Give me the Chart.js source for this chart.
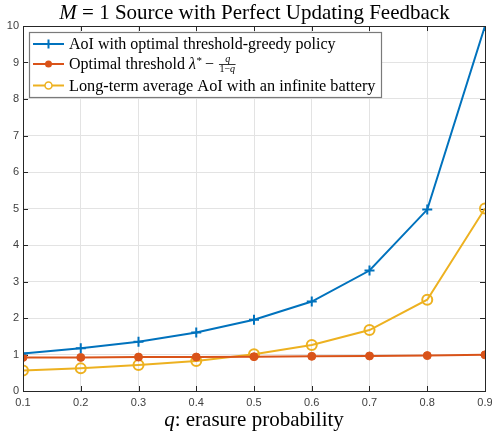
<!DOCTYPE html>
<html>
<head>
<meta charset="utf-8">
<script src="https://cdn.jsdelivr.net/npm/chart.js@4.4.1/dist/chart.umd.min.js"></script>
<style>
html,body{margin:0;padding:0;background:#fff;}
#wrap{width:492px;height:435px;position:relative;}
</style>
</head>
<body>
<div id="wrap"><canvas id="c" width="492" height="435"></canvas></div>
<script>
// ---- data ----
const qValues      = [0.1, 0.2, 0.3, 0.4, 0.5, 0.6, 0.7, 0.8, 0.9];
const aoiGreedy    = [1.03, 1.17, 1.35, 1.60, 1.95, 2.45, 3.30, 4.97, 10.0];
const optThreshold = [0.92, 0.92, 0.93, 0.93, 0.94, 0.95, 0.96, 0.97, 0.99];
const aoiInfinite  = [0.56, 0.62, 0.71, 0.82, 1.01, 1.26, 1.67, 2.50, 5.00];
const xTicks = [0.1, 0.2, 0.3, 0.4, 0.5, 0.6, 0.7, 0.8, 0.9];
const yTicks = [0, 1, 2, 3, 4, 5, 6, 7, 8, 9, 10];
const seriesNames = [
  'AoI with optimal threshold-greedy policy',
  'Optimal threshold',
  'Long-term average AoI with an infinite battery'
];

const BLUE = '#0072BD', ORANGE = '#D95319', YELLOW = '#EDB120';
const AXIS = '#262626', GRID = '#e3e3e3';
const SERIF = '"Liberation Serif", "DejaVu Serif", serif';
const SANS = '"Liberation Sans", Arial, sans-serif';

function pts(ys){ return qValues.map((q,i)=>({x:q,y:ys[i]})); }

function drawRuns(ctx, runs, x, y){
  for (const r of runs){
    ctx.font = (r.italic?'italic ':'') + r.size + 'px ' + SERIF;
    ctx.fillText(r.t, x, y);
    x += ctx.measureText(r.t).width;
  }
  return x;
}
function runsWidth(ctx, runs){
  let w=0;
  for (const r of runs){ ctx.font=(r.italic?'italic ':'')+r.size+'px '+SERIF; w+=ctx.measureText(r.t).width; }
  return w;
}

const decor = {
  id:'decor',
  beforeDatasetsDraw(chart){
    const ctx = chart.ctx, a = chart.chartArea;
    const xs = chart.scales.x, ys = chart.scales.y;
    ctx.save();
    ctx.strokeStyle = AXIS; ctx.lineWidth = 1;
    ctx.beginPath();
    for (const v of xTicks){
      const px = Math.round(xs.getPixelForValue(v))+0.5;
      ctx.moveTo(px, a.bottom); ctx.lineTo(px, a.bottom-5);
      ctx.moveTo(px, a.top); ctx.lineTo(px, a.top+5);
    }
    for (const v of yTicks){
      const py = Math.round(ys.getPixelForValue(v))+0.5;
      ctx.moveTo(a.left, py); ctx.lineTo(a.left+5, py);
      ctx.moveTo(a.right, py); ctx.lineTo(a.right-5, py);
    }
    ctx.stroke();
    ctx.restore();
  },
  afterDraw(chart){
    const ctx = chart.ctx, a = chart.chartArea;
    ctx.save();
    ctx.strokeStyle = AXIS; ctx.lineWidth = 1;
    ctx.strokeRect(Math.round(a.left)+0.5, Math.round(a.top)+0.5, Math.round(a.right-a.left), Math.round(a.bottom-a.top));
    // title
    ctx.fillStyle = '#000';
    ctx.textBaseline = 'alphabetic';
    const title = [
      {t:'M', italic:true, size:21},
      {t:' = 1 Source with Perfect Updating Feedback', italic:false, size:21}
    ];
    const tw = runsWidth(ctx, title);
    drawRuns(ctx, title, 254.5 - tw/2, 19);
    // x label
    const xl = [
      {t:'q', italic:true, size:21},
      {t:': erasure probability', italic:false, size:21}
    ];
    const xw = runsWidth(ctx, xl);
    drawRuns(ctx, xl, 254 - xw/2, 426);
    // legend
    const L = {x:29.5, y:32.5, w:352, h:65};
    ctx.fillStyle = '#fff';
    ctx.fillRect(L.x, L.y, L.w, L.h);
    ctx.strokeStyle = '#7a7a7a'; ctx.lineWidth = 1.2;
    ctx.strokeRect(L.x, L.y, L.w, L.h);
    const rows = [44, 64, 85.5];
    const cols = [BLUE, ORANGE, YELLOW];
    for (let i=0;i<3;i++){
      const y = rows[i];
      ctx.strokeStyle = cols[i]; ctx.lineWidth = 2;
      ctx.beginPath(); ctx.moveTo(33, y); ctx.lineTo(64, y); ctx.stroke();
      const mx = 48.5;
      if (i===0){
        ctx.lineWidth = 2;
        ctx.beginPath(); ctx.moveTo(mx-4.5,y); ctx.lineTo(mx+4.5,y); ctx.moveTo(mx,y-4.5); ctx.lineTo(mx,y+4.5); ctx.stroke();
      } else if (i===1){
        ctx.fillStyle = ORANGE; ctx.beginPath(); ctx.arc(mx,y,3.5,0,Math.PI*2); ctx.fill();
      } else {
        ctx.lineWidth = 1.5; ctx.fillStyle='#fff';
        ctx.beginPath(); ctx.arc(mx,y,3.5,0,Math.PI*2); ctx.fill(); ctx.stroke();
      }
    }
    ctx.fillStyle = '#000';
    ctx.textBaseline = 'middle';
    drawRuns(ctx, [{t:seriesNames[0], size:16}], 69, rows[0]+1);
    let ex = drawRuns(ctx, [{t:seriesNames[1]+' ', size:16},{t:'λ', italic:true, size:16}], 69, rows[1]+1);
    ctx.font = '11px '+SERIF; ctx.fillText('*', ex+0.5, rows[1]-3);
    ex += 9;
    ex = drawRuns(ctx, [{t:'\u2212 ', size:16}], ex, rows[1]+1);
    ex += 1;
    ctx.textBaseline = 'alphabetic';
    const denRuns = [{t:'1\u2212', size:10},{t:'q', italic:true, size:10}];
    const dw = runsWidth(ctx, denRuns);
    ctx.font = 'italic 10px '+SERIF;
    const nw = ctx.measureText('q').width;
    ctx.fillText('q', ex + (dw-nw)/2 + 1, rows[1]-2);
    ctx.strokeStyle = '#000'; ctx.lineWidth = 0.8;
    ctx.beginPath(); ctx.moveTo(ex, rows[1]+0.5); ctx.lineTo(ex+dw+1, rows[1]+0.5); ctx.stroke();
    drawRuns(ctx, denRuns, ex+0.5, rows[1]+8);
    ctx.textBaseline = 'middle';
    drawRuns(ctx, [{t:seriesNames[2], size:16.3}], 69, rows[2]+1);
    ctx.restore();
  }
};

new Chart(document.getElementById('c'), {
  type:'line',
  data:{
    datasets:[
      {label:seriesNames[0], data:pts(aoiGreedy), borderColor:BLUE, backgroundColor:BLUE,
       borderWidth:2, pointStyle:'cross', pointRadius:5, pointBorderWidth:2, pointBorderColor:BLUE},
      {label:seriesNames[1], data:pts(optThreshold), borderColor:ORANGE, backgroundColor:ORANGE,
       borderWidth:2, pointStyle:'circle', pointRadius:4, pointBorderWidth:1, pointBackgroundColor:ORANGE},
      {label:seriesNames[2], data:pts(aoiInfinite), borderColor:YELLOW, backgroundColor:'rgba(0,0,0,0)',
       borderWidth:2, pointStyle:'circle', pointRadius:5, pointBorderWidth:2, pointBackgroundColor:'rgba(0,0,0,0)'}
    ]
  },
  options:{
    responsive:false, animation:false, devicePixelRatio:1,
    layout:{padding:{left:0, right:6, top:26, bottom:0}},
    plugins:{legend:{display:false}, title:{display:false}, tooltip:{enabled:false}},
    elements:{line:{tension:0}},
    scales:{
      x:{type:'linear', min:0.1, max:0.9,
         afterBuildTicks(s){ s.ticks = xTicks.map(v=>({value:v})); },
         afterFit(s){ s.height = 44; s.paddingRight = 0; s.paddingLeft = 0; },
         border:{display:false},
         grid:{color:GRID, drawTicks:false, lineWidth:1},
         ticks:{padding:5, maxRotation:0, autoSkip:false, color:'#404040', font:{family:SANS, size:11},
                callback:(v)=>String(+v.toFixed(1))}},
      y:{type:'linear', min:0, max:10,
         afterBuildTicks(s){ s.ticks = yTicks.map(v=>({value:v})); },
         afterFit(s){ s.width = 23; s.paddingTop = 0; s.paddingBottom = 0; },
         border:{display:false},
         grid:{color:GRID, drawTicks:false, lineWidth:1},
         ticks:{padding:4, color:'#404040', font:{family:SANS, size:11}}}
    }
  },
  plugins:[decor]
});
</script>
</body>
</html>
